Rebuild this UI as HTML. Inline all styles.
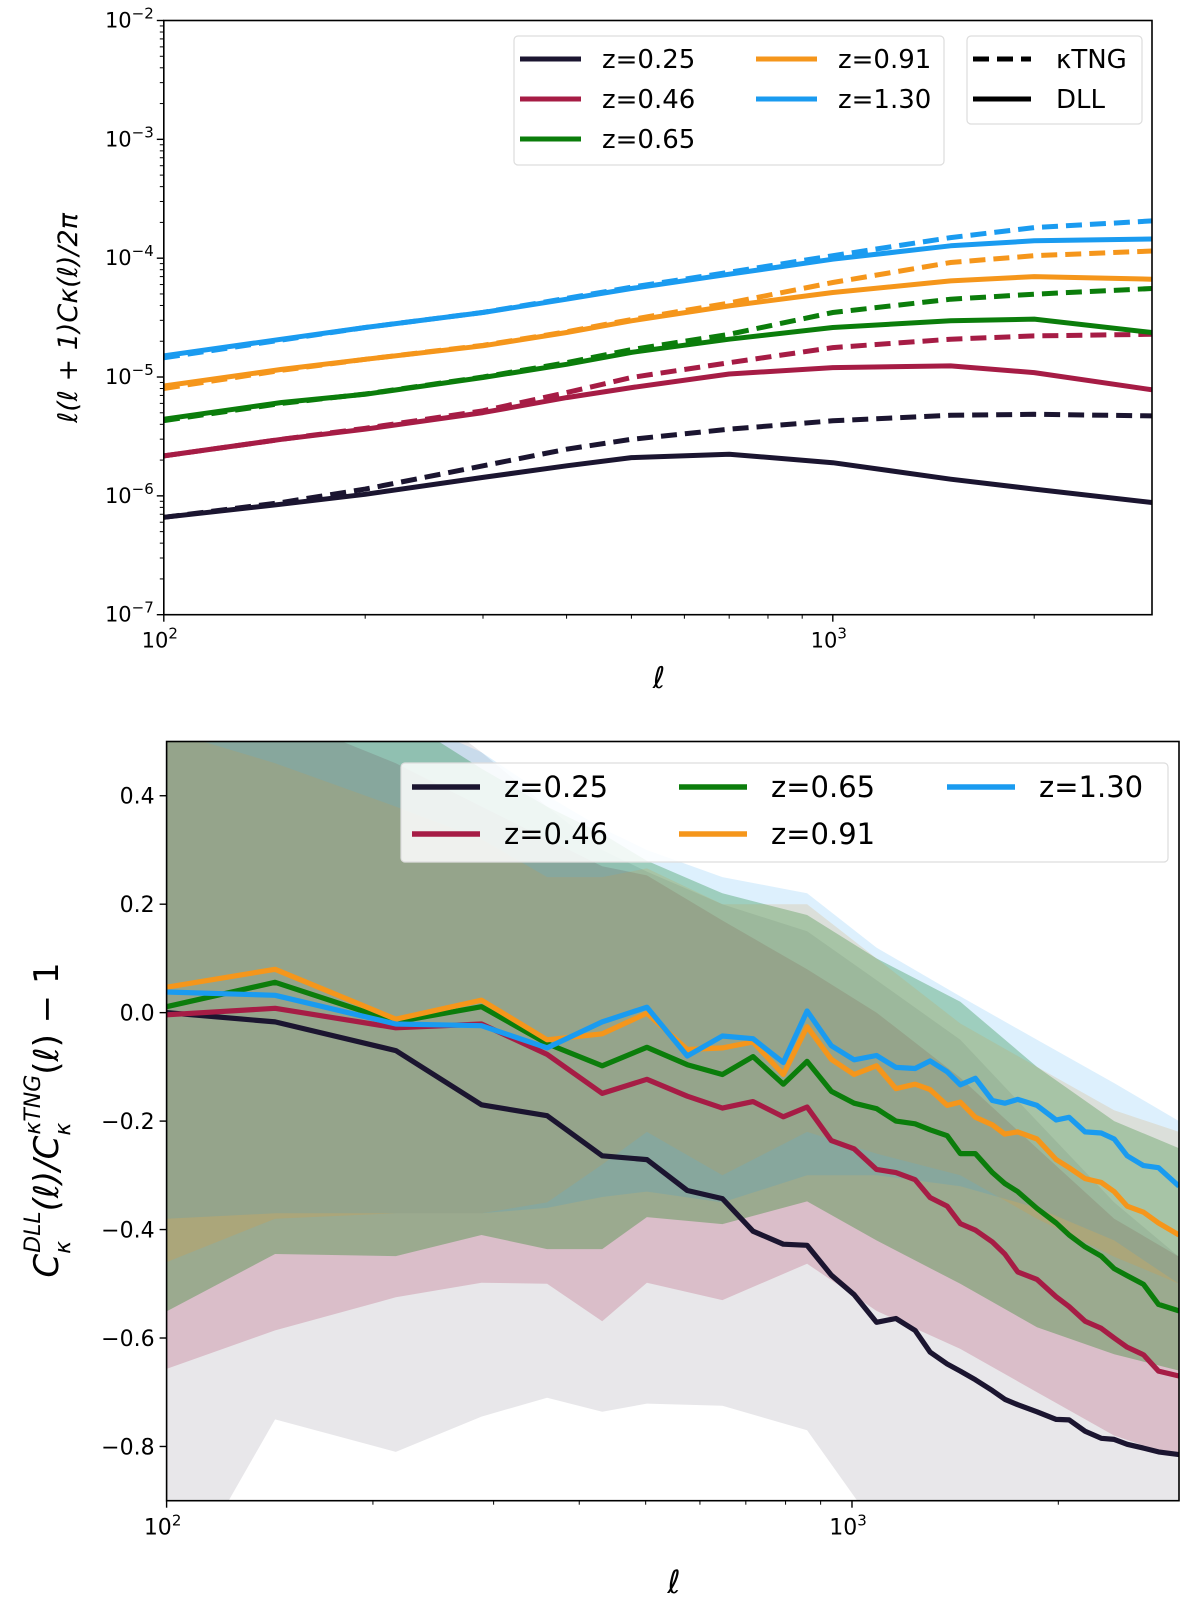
<!DOCTYPE html>
<html><head><meta charset="utf-8">
<style>
html,body{margin:0;padding:0;background:#fff;}
svg{display:block;font-family:"DejaVu Sans","Liberation Sans",sans-serif;}
</style></head>
<body>
<svg id="fig" width="1200" height="1608" viewBox="0 0 1200 1608" xmlns="http://www.w3.org/2000/svg">
<defs>
<clipPath id="clipTop"><rect x="163.8" y="20.5" width="988.2" height="594.2"/></clipPath>
<clipPath id="clipBot"><rect x="166.6" y="741.5" width="1012.4" height="759.2"/></clipPath>
</defs>
<g id="top"></g>
<g id="bot"></g>
</svg>
<script>
// ---------- top panel data ----------
const ellTop = [100,150,200,300,400,500,700,1000,1500,2000,3000];
const dll_z025 = [6.6e-7,8.5e-7,1.03e-6,1.43e-6,1.79e-6,2.1e-6,2.24e-6,1.9e-6,1.38e-6,1.14e-6,8.8e-7];
const tng_z025 = [6.6e-7,8.8e-7,1.14e-6,1.79e-6,2.47e-6,2.99e-6,3.64e-6,4.28e-6,4.76e-6,4.86e-6,4.71e-6];
const dll_z046 = [2.17e-6,2.99e-6,3.64e-6,5.02e-6,6.71e-6,8.15e-6,1.06e-5,1.2e-5,1.24e-5,1.09e-5,7.8e-6];
const tng_z046 = [2.17e-6,2.99e-6,3.7e-6,5.2e-6,7.4e-6,9.9e-6,1.32e-5,1.77e-5,2.08e-5,2.22e-5,2.29e-5];
const dll_z065 = [4.42e-6,6.1e-6,7.16e-6,9.9e-6,1.28e-5,1.61e-5,2.08e-5,2.61e-5,2.97e-5,3.07e-5,2.37e-5];
const tng_z065 = [4.3e-6,6.0e-6,7.2e-6,1.0e-5,1.32e-5,1.7e-5,2.29e-5,3.49e-5,4.52e-5,4.98e-5,5.56e-5];
const dll_z091 = [8.4e-6,1.16e-5,1.41e-5,1.83e-5,2.37e-5,2.97e-5,3.97e-5,5.14e-5,6.44e-5,7.0e-5,6.65e-5];
const tng_z091 = [8.0e-6,1.14e-5,1.41e-5,1.85e-5,2.4e-5,3.05e-5,4.2e-5,6.24e-5,9.2e-5,1.05e-4,1.15e-4];
const dll_z130 = [1.51e-5,2.08e-5,2.61e-5,3.49e-5,4.52e-5,5.56e-5,7.33e-5,9.8e-5,1.27e-4,1.4e-4,1.45e-4];
const tng_z130 = [1.45e-5,2.05e-5,2.61e-5,3.5e-5,4.6e-5,5.7e-5,7.6e-5,1.05e-4,1.49e-4,1.81e-4,2.06e-4];
const topYTicks = [-7,-6,-5,-4,-3,-2];
const topXTicks = [2,3];
const zLabels = ["z=0.25","z=0.46","z=0.65","z=0.91","z=1.30"];
const zColors = ["#1b1530","#a61c45","#0b7d0b","#f5961b","#1a9bf0"];

// ---------- bottom panel data ----------
const ellBot = [100,144,216,288,359,432,502,575,647,717,794,860,933,1007,1086,1159,1236,1300,1377,1439,1514,1603,1671,1745,1862,1986,2074,2188,2310,2413,2521,2663,2800,3000];
const ratio_z025 = [0.0,-0.017,-0.07,-0.17,-0.19,-0.264,-0.271,-0.328,-0.343,-0.403,-0.427,-0.429,-0.484,-0.52,-0.571,-0.564,-0.586,-0.626,-0.648,-0.661,-0.677,-0.697,-0.713,-0.723,-0.736,-0.75,-0.751,-0.772,-0.785,-0.787,-0.796,-0.803,-0.81,-0.815];
const ratio_z046 = [-0.004,0.008,-0.028,-0.021,-0.077,-0.149,-0.123,-0.154,-0.176,-0.164,-0.192,-0.174,-0.236,-0.251,-0.289,-0.295,-0.308,-0.341,-0.357,-0.389,-0.401,-0.423,-0.445,-0.478,-0.492,-0.524,-0.542,-0.569,-0.582,-0.6,-0.617,-0.631,-0.661,-0.67];
const ratio_z065 = [0.011,0.056,-0.017,0.011,-0.057,-0.098,-0.064,-0.096,-0.114,-0.081,-0.132,-0.09,-0.145,-0.167,-0.177,-0.2,-0.205,-0.216,-0.227,-0.26,-0.26,-0.295,-0.315,-0.33,-0.361,-0.388,-0.41,-0.432,-0.449,-0.472,-0.485,-0.501,-0.538,-0.55];
const ratio_z091 = [0.047,0.08,-0.012,0.023,-0.05,-0.039,-0.001,-0.068,-0.065,-0.054,-0.114,-0.026,-0.086,-0.114,-0.098,-0.14,-0.132,-0.142,-0.171,-0.165,-0.193,-0.207,-0.224,-0.22,-0.233,-0.271,-0.286,-0.306,-0.313,-0.33,-0.357,-0.368,-0.388,-0.41];
const ratio_z130 = [0.038,0.032,-0.021,-0.024,-0.065,-0.017,0.01,-0.08,-0.043,-0.048,-0.092,0.003,-0.061,-0.087,-0.079,-0.101,-0.103,-0.089,-0.109,-0.133,-0.121,-0.162,-0.167,-0.16,-0.171,-0.198,-0.193,-0.22,-0.222,-0.233,-0.264,-0.282,-0.286,-0.32];
const ellBand = [100,144,216,288,359,432,502,647,860,1086,1439,1862,2413,3000];
const band_z025_lo = [-1.1,-0.75,-0.81,-0.745,-0.71,-0.736,-0.721,-0.725,-0.77,-0.95,-1.0,-1.0,-1.0,-1.0];
const band_z025_hi = [0.8,0.7,0.6,0.48,0.38,0.3,0.26,0.2,0.15,0.06,-0.05,-0.2,-0.35,-0.45];
const band_z046_lo = [-0.657,-0.586,-0.525,-0.498,-0.5,-0.569,-0.498,-0.53,-0.463,-0.55,-0.62,-0.7,-0.78,-0.82];
const band_z046_hi = [0.62,0.55,0.46,0.38,0.32,0.27,0.253,0.17,0.08,0.0,-0.12,-0.25,-0.38,-0.45];
const band_z065_lo = [-0.551,-0.445,-0.449,-0.41,-0.436,-0.436,-0.377,-0.39,-0.348,-0.42,-0.5,-0.58,-0.63,-0.66];
const band_z065_hi = [0.7,0.65,0.55,0.45,0.38,0.33,0.28,0.22,0.18,0.1,0.02,-0.1,-0.2,-0.25];
const band_z091_lo = [-0.46,-0.38,-0.37,-0.37,-0.35,-0.28,-0.22,-0.3,-0.22,-0.26,-0.3,-0.38,-0.45,-0.5];
const band_z091_hi = [0.52,0.46,0.38,0.32,0.25,0.25,0.266,0.2,0.2,0.1,-0.02,-0.1,-0.18,-0.22];
const band_z130_lo = [-0.38,-0.37,-0.37,-0.37,-0.36,-0.34,-0.33,-0.35,-0.3,-0.3,-0.32,-0.36,-0.42,-0.5];
const band_z130_hi = [0.7,0.65,0.55,0.48,0.4,0.34,0.3,0.25,0.22,0.12,0.03,-0.05,-0.13,-0.2];
const botYTicks = [0.4,0.2,0.0,-0.2,-0.4,-0.6,-0.8];
const botYLabels = ["0.4","0.2","0.0","\u22120.2","\u22120.4","\u22120.6","\u22120.8"];

const NS = "http://www.w3.org/2000/svg";
function mk(parent, tag, attrs, text){
  const e = document.createElementNS(NS, tag);
  for (const k in attrs) e.setAttribute(k, attrs[k]);
  if (text !== undefined) e.textContent = text;
  parent.appendChild(e);
  return e;
}
const LMAX = Math.log10(3000);

// ---------- top axes ----------
const T = {L:163.8,R:1152,T:20.5,B:614.7};
function tx(l){ return T.L + (Math.log10(l)-2)/(LMAX-2)*(T.R-T.L); }
function ty(v){ return T.B - (Math.log10(v)+7)/5*(T.B-T.T); }
const gT = document.getElementById('top');

const topDll = [dll_z025,dll_z046,dll_z065,dll_z091,dll_z130];
const topTng = [tng_z025,tng_z046,tng_z065,tng_z091,tng_z130];
const gLines = mk(gT,'g',{'clip-path':'url(#clipTop)'});


for (let s=0;s<5;s++){
  const dS = topDll[s].map((v,i)=>(i?'L':'M')+tx(ellTop[i]).toFixed(1)+','+ty(v).toFixed(1)).join(' ');
  const dD = topTng[s].map((v,i)=>(i?'L':'M')+tx(ellTop[i]).toFixed(1)+','+ty(v).toFixed(1)).join(' ');
  const p1 = mk(gLines,'path',{d:dD,fill:'none',stroke:zColors[s],'stroke-width':5,'stroke-dasharray':'16,8'});
  
  
  const p2 = mk(gLines,'path',{d:dS,fill:'none',stroke:zColors[s],'stroke-width':5,'stroke-linejoin':'round'});
  
  
}
const fT = mk(gT,'rect',{x:T.L,y:T.T,width:T.R-T.L,height:T.B-T.T,fill:'none',stroke:'#000','stroke-width':1.6});


for (const e of topYTicks){
  const y = ty(Math.pow(10,e));
  mk(gT,'line',{x1:T.L-7,x2:T.L,y1:y,y2:y,stroke:'#000','stroke-width':1.4});
  const t = mk(gT,'text',{x:T.L-10,y:y+7,'text-anchor':'end','font-size':21});
  
  
  t.textContent = '10';
  mk(t,'tspan',{dy:-9,'font-size':15},'\u2212'+(-e));
  if (e < -2) for (let m=2;m<10;m++){
    const ym = ty(m*Math.pow(10,e));
    mk(gT,'line',{x1:T.L-4,x2:T.L,y1:ym,y2:ym,stroke:'#000','stroke-width':1});
  }
}
for (const e of topXTicks){
  const x = tx(Math.pow(10,e));
  mk(gT,'line',{x1:x,x2:x,y1:T.B,y2:T.B+7,stroke:'#000','stroke-width':1.4});
  const t = mk(gT,'text',{x:x-4,y:T.B+33,'text-anchor':'middle','font-size':21});
  
  
  t.textContent='10';
  mk(t,'tspan',{dy:-9,'font-size':15},String(e));
}
for (let l=200;l<3000;l+=(l<1000?100:1000)){
  if (l===1000) continue;
  const x = tx(l);
  mk(gT,'line',{x1:x,x2:x,y1:T.B,y2:T.B+4,stroke:'#000','stroke-width':1});
}
const ylT = mk(gT,'text',{x:0,y:0,'text-anchor':'middle','font-size':27,'font-style':'italic',transform:'translate(77,318) rotate(-90)'},'\u2113(\u2113 + 1)C\u03BA(\u2113)/2\u03C0');


const xlT = mk(gT,'text',{x:659,y:688,'text-anchor':'middle','font-size':30,'font-style':'italic'},'\u2113');


const lg1 = mk(gT,'g',{});


mk(lg1,'rect',{x:514,y:36,width:430,height:129,rx:4,fill:'#fff','fill-opacity':0.85,stroke:'#ddd','stroke-width':1.2});
const legPos = [[520,59],[520,99],[520,139],[756,59],[756,99]];
for (let s=0;s<5;s++){
  const [lx,ly] = legPos[s];
  const ln = mk(lg1,'line',{x1:lx,x2:lx+61,y1:ly,y2:ly,stroke:zColors[s],'stroke-width':5});
  
  
  const lt = mk(lg1,'text',{x:lx+82,y:ly+9,'font-size':26},zLabels[s]);
  
  
}
const lg2 = mk(gT,'g',{});


mk(lg2,'rect',{x:967,y:36,width:175,height:88,rx:4,fill:'#fff','fill-opacity':0.85,stroke:'#ddd','stroke-width':1.2});
mk(lg2,'line',{x1:973,x2:1031,y1:59,y2:59,stroke:'#000','stroke-width':5,'stroke-dasharray':'16,8'});
mk(lg2,'text',{x:1056,y:68,'font-size':26},'\u03BATNG');
mk(lg2,'line',{x1:973,x2:1031,y1:99,y2:99,stroke:'#000','stroke-width':5});
mk(lg2,'text',{x:1056,y:108,'font-size':26},'DLL');

// ---------- bottom axes ----------
const B = {L:166.6,R:1179,T:741.5,B:1500.7};
function bx(l){ return B.L + (Math.log10(l)-2)/(LMAX-2)*(B.R-B.L); }
function by(v){ return B.B - (v+0.9)/1.4*(B.B-B.T); }
const gB = document.getElementById('bot');
const gBand = mk(gB,'g',{'clip-path':'url(#clipBot)'});


const bandsLo = [band_z025_lo,band_z046_lo,band_z065_lo,band_z091_lo,band_z130_lo];
const bandsHi = [band_z025_hi,band_z046_hi,band_z065_hi,band_z091_hi,band_z130_hi];
const bandAlpha = [0.1,0.2,0.3,0.18,0.15];
for (let s=0;s<5;s++){
  let d = bandsHi[s].map((v,i)=>(i?'L':'M')+bx(ellBand[i]).toFixed(1)+','+by(v).toFixed(1)).join(' ');
  for (let i=ellBand.length-1;i>=0;i--) d += ' L'+bx(ellBand[i]).toFixed(1)+','+by(bandsLo[s][i]).toFixed(1);
  d += ' Z';
  const p = mk(gBand,'path',{d:d,fill:zColors[s],'fill-opacity':bandAlpha[s],stroke:'none'});
  
  
}
const ratios = [ratio_z025,ratio_z046,ratio_z065,ratio_z091,ratio_z130];
const gRL = mk(gB,'g',{'clip-path':'url(#clipBot)'});


for (let s=0;s<5;s++){
  const d = ratios[s].map((v,i)=>(i?'L':'M')+bx(ellBot[i]).toFixed(1)+','+by(v).toFixed(1)).join(' ');
  const p = mk(gRL,'path',{d:d,fill:'none',stroke:zColors[s],'stroke-width':5.2,'stroke-linejoin':'round'});
  
  
}
const fB = mk(gB,'rect',{x:B.L,y:B.T,width:B.R-B.L,height:B.B-B.T,fill:'none',stroke:'#000','stroke-width':1.6});


for (let i=0;i<botYTicks.length;i++){
  const y = by(botYTicks[i]);
  mk(gB,'line',{x1:B.L-7,x2:B.L,y1:y,y2:y,stroke:'#000','stroke-width':1.4});
  const t = mk(gB,'text',{x:B.L-12,y:y+8,'text-anchor':'end','font-size':22},botYLabels[i]);
  
  
}
for (const e of topXTicks){
  const x = bx(Math.pow(10,e));
  mk(gB,'line',{x1:x,x2:x,y1:B.B,y2:B.B+7,stroke:'#000','stroke-width':1.4});
  const t = mk(gB,'text',{x:x-4,y:B.B+34,'text-anchor':'middle','font-size':22});
  
  
  t.textContent='10';
  mk(t,'tspan',{dy:-9,'font-size':15},String(e));
}
for (let l=200;l<3000;l+=(l<1000?100:1000)){
  if (l===1000) continue;
  const x = bx(l);
  mk(gB,'line',{x1:x,x2:x,y1:B.B,y2:B.B+4,stroke:'#000','stroke-width':1});
}
const ylB = mk(gB,'text',{x:0,y:0,'text-anchor':'middle','font-size':34,'font-style':'italic',transform:'translate(58,1120) rotate(-90)'});


ylB.textContent='C';
mk(ylB,'tspan',{dy:12,'font-size':22},'\u03BA');
mk(ylB,'tspan',{dy:-30,dx:-12,'font-size':22},'DLL');
mk(ylB,'tspan',{dy:18},'(\u2113)/C');
mk(ylB,'tspan',{dy:12,'font-size':22},'\u03BA');
mk(ylB,'tspan',{dy:-30,dx:-12,'font-size':22},'\u03BATNG');
mk(ylB,'tspan',{dy:18,'font-style':'normal'},'(\u2113) \u2212 1');
const xlB = mk(gB,'text',{x:674,y:1593,'text-anchor':'middle','font-size':32,'font-style':'italic'},'\u2113');


const lg3 = mk(gB,'g',{});


mk(lg3,'rect',{x:401,y:763,width:767,height:99,rx:4,fill:'#fff','fill-opacity':0.85,stroke:'#ddd','stroke-width':1.2});
const legPos2 = [[412,787],[412,834],[679,787],[679,834],[947,787]];
for (let s=0;s<5;s++){
  const [lx,ly] = legPos2[s];
  const ln = mk(lg3,'line',{x1:lx,x2:lx+68,y1:ly,y2:ly,stroke:zColors[s],'stroke-width':5.5});
  
  
  const lt = mk(lg3,'text',{x:lx+92,y:ly+10,'font-size':29},zLabels[s]);
  
  
}
</script>
</body></html>
